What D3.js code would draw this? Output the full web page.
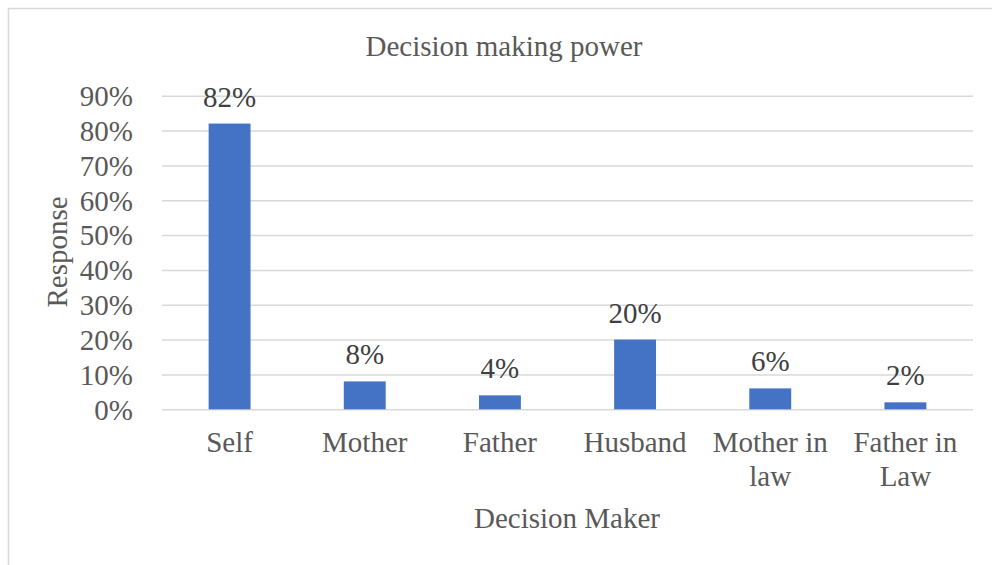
<!DOCTYPE html>
<html><head><meta charset="utf-8">
<script src="https://cdn.jsdelivr.net/npm/d3@7"></script>
<style>body{margin:0;background:#fff}svg{display:block}</style>
</head><body>
<script>
const categories = ["Self","Mother","Father","Husband","Mother in law","Father in Law"];
const categoryLines = [["Self"],["Mother"],["Father"],["Husband"],["Mother in","law"],["Father in","Law"]];
const values = [0.82,0.08,0.04,0.20,0.06,0.02];
const yTicks = [0,0.1,0.2,0.3,0.4,0.5,0.6,0.7,0.8,0.9];
const title = "Decision making power";
const xTitle = "Decision Maker";
const yTitle = "Response";

const FONT='"Liberation Serif","Times New Roman",serif';
const FS=29;
const W=992,H=565;
const svg=d3.select("body").append("svg").attr("width",W).attr("height",H).attr("font-family",FONT);
svg.append("rect").attr("x",8.5).attr("y",8.5).attr("width",W+10).attr("height",H+10)
  .attr("fill","#fff").attr("stroke","#d9d9d9").attr("stroke-width",1.5);

const pLeft=162,pRight=973,pTop=95.7,pBottom=409.3;
const x=d3.scaleBand().domain(categories).range([pLeft,pRight]).paddingInner(0.69).paddingOuter(0.345);
const y=d3.scaleLinear().domain([0,0.9]).range([pBottom,pTop]);

const yAxis=d3.axisLeft(y).tickValues(yTicks).tickFormat(d3.format(".0%")).tickSize(-(pRight-pLeft)).tickPadding(29);
const gy=svg.append("g").attr("transform",`translate(${pLeft},0)`).call(yAxis);
gy.attr("font-family",FONT).attr("font-size",FS);
gy.select(".domain").remove();
gy.selectAll(".tick line").attr("stroke","#d9d9d9").attr("stroke-width",1.5);
gy.selectAll(".tick text").attr("fill","#595959").attr("font-family",FONT).attr("font-size",FS).attr("dy","0.34em");

svg.append("g").selectAll("rect").data(values).join("rect")
  .attr("x",(d,i)=>x(categories[i])).attr("width",x.bandwidth())
  .attr("y",d=>y(d)).attr("height",d=>pBottom-y(d)).attr("fill","#4472c4");

svg.append("g").selectAll("text").data(values).join("text")
  .attr("x",(d,i)=>x(categories[i])+x.bandwidth()/2).attr("y",d=>y(d)-17)
  .attr("text-anchor","middle").attr("font-family",FONT).attr("font-size",FS).attr("fill","#404040")
  .text(d=>d3.format(".0%")(d));

const xl=svg.append("g");
categoryLines.forEach((lines,i)=>{
  const cx=x(categories[i])+x.bandwidth()/2;
  const t=xl.append("text").attr("text-anchor","middle").attr("font-family",FONT).attr("font-size",FS).attr("fill","#595959")
    .attr("x",cx).attr("y",452);
  lines.forEach((l,j)=>t.append("tspan").attr("x",cx).attr("dy",j?34:0).text(l));
});

svg.append("text").attr("x",504).attr("y",56).attr("text-anchor","middle").attr("font-family",FONT).attr("font-size",FS).attr("fill","#595959").text(title);
svg.append("text").attr("x",567).attr("y",528).attr("text-anchor","middle").attr("font-family",FONT).attr("font-size",FS).attr("fill","#595959").text(xTitle);
svg.append("text").attr("transform","translate(67,252) rotate(-90)").attr("text-anchor","middle").attr("font-family",FONT).attr("font-size",FS).attr("fill","#595959").text(yTitle);
</script>
</body></html>
